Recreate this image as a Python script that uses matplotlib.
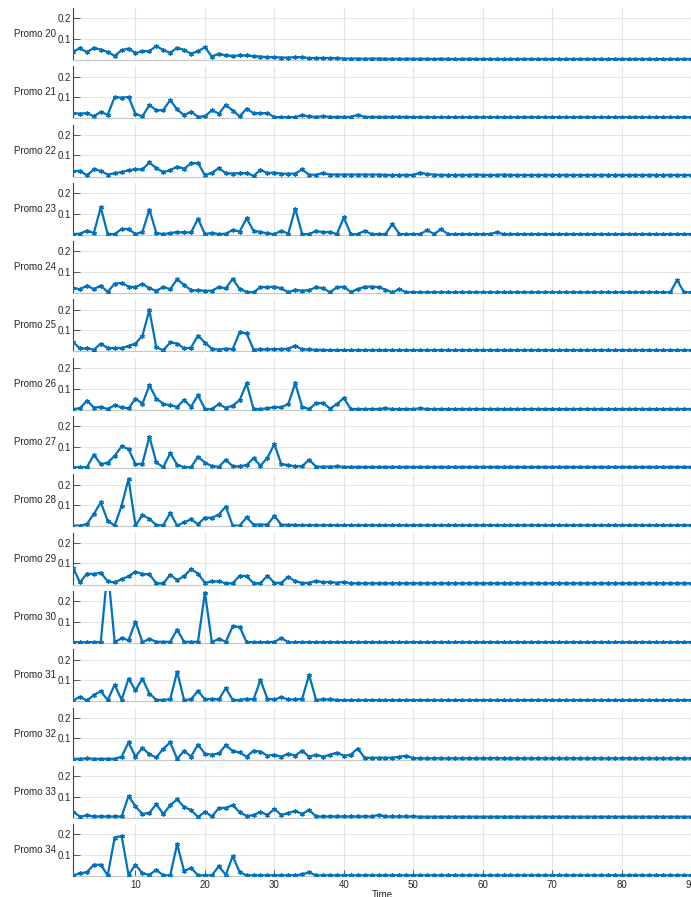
import matplotlib.pyplot as plt
import numpy as np

plt.rcParams['font.family'] = ['Liberation Sans', 'DejaVu Sans']

time = np.arange(1, 91)

promo_names = ['Promo 20', 'Promo 21', 'Promo 22', 'Promo 23', 'Promo 24',
               'Promo 25', 'Promo 26', 'Promo 27', 'Promo 28', 'Promo 29',
               'Promo 30', 'Promo 31', 'Promo 32', 'Promo 33', 'Promo 34']

promo_20 = [0.037, 0.053, 0.035, 0.055, 0.047, 0.035, 0.016, 0.044, 0.052, 0.029,
            0.040, 0.039, 0.065, 0.044, 0.032, 0.056, 0.045, 0.027, 0.039, 0.058,
            0.013, 0.027, 0.018, 0.016, 0.018, 0.018, 0.015, 0.013, 0.010, 0.010,
            0.008, 0.008, 0.010, 0.010, 0.005, 0.006, 0.006, 0.005, 0.005, 0.003,
            0.003, 0.003, 0.002, 0.003, 0.003, 0.002, 0.002, 0.002, 0.002, 0.002,
            0.002, 0.002, 0.001, 0.002, 0.002, 0.001, 0.001, 0.002, 0.001, 0.001,
            0.001, 0.001, 0.001, 0.001, 0.001, 0.001, 0.001, 0.001, 0.001, 0.001,
            0.001, 0.001, 0.001, 0.001, 0.001, 0.001, 0.001, 0.001, 0.001, 0.001,
            0.001, 0.001, 0.001, 0.001, 0.001, 0.001, 0.001, 0.001, 0.001, 0.001]
promo_21 = [0.021, 0.019, 0.021, 0.006, 0.027, 0.013, 0.100, 0.097, 0.100, 0.018,
            0.005, 0.061, 0.035, 0.037, 0.085, 0.039, 0.011, 0.029, 0.003, 0.006,
            0.035, 0.019, 0.061, 0.034, 0.005, 0.043, 0.021, 0.021, 0.021, 0.002,
            0.002, 0.002, 0.002, 0.011, 0.005, 0.003, 0.006, 0.003, 0.003, 0.003,
            0.003, 0.013, 0.003, 0.003, 0.003, 0.003, 0.003, 0.003, 0.003, 0.002,
            0.002, 0.002, 0.002, 0.002, 0.002, 0.002, 0.002, 0.002, 0.002, 0.002,
            0.002, 0.002, 0.002, 0.002, 0.002, 0.002, 0.002, 0.002, 0.002, 0.002,
            0.002, 0.002, 0.002, 0.002, 0.002, 0.002, 0.002, 0.002, 0.002, 0.002,
            0.002, 0.002, 0.002, 0.002, 0.002, 0.002, 0.002, 0.002, 0.002, 0.002]
promo_22 = [0.023, 0.024, 0.002, 0.031, 0.024, 0.006, 0.013, 0.018, 0.027, 0.032,
            0.031, 0.065, 0.037, 0.018, 0.027, 0.045, 0.035, 0.060, 0.063, 0.003,
            0.015, 0.037, 0.013, 0.011, 0.013, 0.013, 0.000, 0.029, 0.013, 0.016,
            0.010, 0.010, 0.011, 0.031, 0.005, 0.005, 0.013, 0.006, 0.006, 0.006,
            0.006, 0.006, 0.006, 0.006, 0.006, 0.004, 0.004, 0.004, 0.004, 0.004,
            0.016, 0.008, 0.006, 0.004, 0.004, 0.004, 0.004, 0.004, 0.006, 0.004,
            0.004, 0.004, 0.006, 0.004, 0.004, 0.004, 0.004, 0.004, 0.004, 0.004,
            0.004, 0.004, 0.004, 0.004, 0.004, 0.004, 0.004, 0.004, 0.004, 0.004,
            0.004, 0.004, 0.004, 0.004, 0.004, 0.004, 0.004, 0.004, 0.004, 0.004]
promo_23 = [0.000, 0.002, 0.017, 0.005, 0.130, 0.000, 0.000, 0.025, 0.025, 0.000,
            0.010, 0.120, 0.005, 0.000, 0.005, 0.010, 0.008, 0.008, 0.075, 0.000,
            0.006, 0.000, 0.002, 0.020, 0.012, 0.077, 0.016, 0.011, 0.003, 0.000,
            0.016, 0.002, 0.124, 0.000, 0.000, 0.015, 0.010, 0.010, 0.000, 0.081,
            0.000, 0.000, 0.016, 0.000, 0.000, 0.000, 0.050, 0.000, 0.000, 0.000,
            0.000, 0.019, 0.000, 0.024, 0.000, 0.000, 0.000, 0.000, 0.000, 0.000,
            0.000, 0.008, 0.000, 0.000, 0.000, 0.000, 0.000, 0.000, 0.000, 0.000,
            0.000, 0.000, 0.000, 0.000, 0.000, 0.000, 0.000, 0.000, 0.000, 0.000,
            0.000, 0.000, 0.000, 0.000, 0.000, 0.000, 0.000, 0.000, 0.000, 0.000]
promo_24 = [0.023, 0.015, 0.033, 0.016, 0.033, 0.002, 0.043, 0.046, 0.028, 0.026,
            0.041, 0.020, 0.008, 0.026, 0.016, 0.064, 0.036, 0.011, 0.010, 0.008,
            0.008, 0.026, 0.020, 0.066, 0.016, 0.003, 0.000, 0.026, 0.026, 0.028,
            0.020, 0.000, 0.013, 0.008, 0.011, 0.025, 0.021, 0.000, 0.025, 0.028,
            0.002, 0.015, 0.028, 0.028, 0.026, 0.013, 0.000, 0.016, 0.000, 0.000,
            0.000, 0.000, 0.000, 0.000, 0.000, 0.000, 0.000, 0.000, 0.000, 0.000,
            0.000, 0.000, 0.000, 0.000, 0.000, 0.000, 0.000, 0.000, 0.000, 0.000,
            0.000, 0.000, 0.000, 0.000, 0.000, 0.000, 0.000, 0.000, 0.000, 0.000,
            0.000, 0.000, 0.000, 0.000, 0.000, 0.000, 0.000, 0.060, 0.000, 0.000]
promo_25 = [0.042, 0.011, 0.011, 0.005, 0.034, 0.013, 0.013, 0.013, 0.023, 0.035,
            0.073, 0.198, 0.016, 0.002, 0.040, 0.035, 0.011, 0.015, 0.074, 0.039,
            0.010, 0.005, 0.010, 0.008, 0.090, 0.085, 0.005, 0.006, 0.006, 0.008,
            0.008, 0.010, 0.025, 0.006, 0.006, 0.004, 0.004, 0.003, 0.003, 0.003,
            0.002, 0.002, 0.002, 0.002, 0.002, 0.002, 0.002, 0.002, 0.002, 0.002,
            0.002, 0.002, 0.002, 0.002, 0.002, 0.002, 0.002, 0.002, 0.002, 0.002,
            0.002, 0.002, 0.002, 0.002, 0.002, 0.002, 0.002, 0.002, 0.002, 0.002,
            0.002, 0.002, 0.002, 0.002, 0.002, 0.002, 0.002, 0.002, 0.002, 0.002,
            0.002, 0.002, 0.002, 0.002, 0.002, 0.002, 0.002, 0.002, 0.002, 0.002]
promo_26 = [0.000, 0.003, 0.041, 0.007, 0.010, 0.000, 0.018, 0.008, 0.003, 0.051,
            0.026, 0.115, 0.051, 0.025, 0.018, 0.010, 0.044, 0.011, 0.067, 0.000,
            0.000, 0.024, 0.005, 0.017, 0.043, 0.125, 0.000, 0.000, 0.003, 0.010,
            0.008, 0.024, 0.125, 0.011, 0.000, 0.027, 0.030, 0.002, 0.024, 0.054,
            0.000, 0.000, 0.000, 0.000, 0.000, 0.003, 0.000, 0.000, 0.000, 0.000,
            0.003, 0.000, 0.000, 0.000, 0.000, 0.000, 0.000, 0.000, 0.000, 0.000,
            0.000, 0.000, 0.000, 0.000, 0.000, 0.000, 0.000, 0.000, 0.000, 0.000,
            0.000, 0.000, 0.000, 0.000, 0.000, 0.000, 0.000, 0.000, 0.000, 0.000,
            0.000, 0.000, 0.000, 0.000, 0.000, 0.000, 0.000, 0.000, 0.000, 0.000]
promo_27 = [0.000, 0.000, 0.000, 0.061, 0.015, 0.023, 0.056, 0.102, 0.089, 0.015,
            0.018, 0.150, 0.024, 0.000, 0.069, 0.013, 0.000, 0.000, 0.052, 0.022,
            0.006, 0.002, 0.037, 0.005, 0.005, 0.011, 0.044, 0.008, 0.047, 0.113,
            0.015, 0.011, 0.005, 0.005, 0.037, 0.003, 0.003, 0.003, 0.004, 0.002,
            0.002, 0.002, 0.002, 0.002, 0.002, 0.002, 0.002, 0.002, 0.002, 0.002,
            0.002, 0.002, 0.002, 0.002, 0.002, 0.002, 0.002, 0.002, 0.002, 0.002,
            0.002, 0.002, 0.002, 0.002, 0.002, 0.002, 0.002, 0.002, 0.002, 0.002,
            0.002, 0.002, 0.002, 0.002, 0.002, 0.002, 0.002, 0.002, 0.002, 0.002,
            0.002, 0.002, 0.002, 0.002, 0.002, 0.002, 0.002, 0.002, 0.002, 0.002]
promo_28 = [0.000, 0.000, 0.007, 0.057, 0.113, 0.023, 0.000, 0.097, 0.228, 0.000,
            0.052, 0.033, 0.002, 0.002, 0.061, 0.000, 0.016, 0.030, 0.007, 0.039,
            0.038, 0.054, 0.093, 0.000, 0.000, 0.040, 0.005, 0.005, 0.005, 0.047,
            0.004, 0.004, 0.003, 0.002, 0.002, 0.002, 0.002, 0.002, 0.002, 0.002,
            0.002, 0.002, 0.002, 0.002, 0.002, 0.002, 0.002, 0.002, 0.002, 0.002,
            0.002, 0.002, 0.002, 0.002, 0.002, 0.002, 0.002, 0.002, 0.002, 0.002,
            0.002, 0.002, 0.002, 0.002, 0.002, 0.002, 0.002, 0.002, 0.002, 0.002,
            0.002, 0.002, 0.002, 0.002, 0.002, 0.002, 0.002, 0.002, 0.002, 0.002,
            0.002, 0.002, 0.002, 0.002, 0.002, 0.002, 0.002, 0.002, 0.002, 0.002]
promo_29 = [0.080, 0.007, 0.050, 0.048, 0.055, 0.012, 0.007, 0.023, 0.037, 0.060,
            0.048, 0.047, 0.003, 0.002, 0.045, 0.018, 0.038, 0.072, 0.050, 0.005,
            0.012, 0.012, 0.003, 0.003, 0.040, 0.038, 0.003, 0.003, 0.040, 0.005,
            0.005, 0.035, 0.012, 0.005, 0.005, 0.015, 0.008, 0.010, 0.005, 0.010,
            0.003, 0.003, 0.003, 0.003, 0.003, 0.003, 0.003, 0.003, 0.003, 0.003,
            0.003, 0.003, 0.003, 0.003, 0.003, 0.003, 0.003, 0.003, 0.003, 0.003,
            0.003, 0.003, 0.003, 0.003, 0.003, 0.003, 0.003, 0.003, 0.003, 0.003,
            0.003, 0.003, 0.003, 0.003, 0.003, 0.003, 0.003, 0.003, 0.003, 0.003,
            0.003, 0.003, 0.003, 0.003, 0.003, 0.003, 0.003, 0.003, 0.003, 0.003]
promo_30 = [0.000, 0.000, 0.000, 0.000, 0.000, 0.360, 0.000, 0.019, 0.010, 0.100,
            0.000, 0.016, 0.002, 0.002, 0.002, 0.061, 0.002, 0.002, 0.002, 0.242,
            0.000, 0.016, 0.002, 0.077, 0.075, 0.000, 0.000, 0.000, 0.000, 0.002,
            0.020, 0.000, 0.000, 0.000, 0.000, 0.000, 0.000, 0.000, 0.000, 0.000,
            0.000, 0.000, 0.000, 0.000, 0.000, 0.000, 0.000, 0.000, 0.000, 0.000,
            0.000, 0.000, 0.000, 0.000, 0.000, 0.000, 0.000, 0.000, 0.000, 0.000,
            0.000, 0.000, 0.000, 0.000, 0.000, 0.000, 0.000, 0.000, 0.000, 0.000,
            0.000, 0.000, 0.000, 0.000, 0.000, 0.000, 0.000, 0.000, 0.000, 0.000,
            0.000, 0.000, 0.000, 0.000, 0.000, 0.000, 0.000, 0.000, 0.000, 0.000]
promo_31 = [0.000, 0.018, 0.000, 0.026, 0.045, 0.002, 0.077, 0.003, 0.106, 0.050,
            0.106, 0.034, 0.003, 0.003, 0.006, 0.140, 0.003, 0.005, 0.047, 0.005,
            0.008, 0.005, 0.060, 0.003, 0.003, 0.008, 0.005, 0.100, 0.008, 0.005,
            0.015, 0.005, 0.005, 0.008, 0.125, 0.003, 0.005, 0.005, 0.003, 0.002,
            0.002, 0.002, 0.002, 0.002, 0.002, 0.002, 0.002, 0.002, 0.002, 0.002,
            0.002, 0.002, 0.002, 0.002, 0.002, 0.002, 0.002, 0.002, 0.002, 0.002,
            0.002, 0.002, 0.002, 0.002, 0.002, 0.002, 0.002, 0.002, 0.002, 0.002,
            0.002, 0.002, 0.002, 0.002, 0.002, 0.002, 0.002, 0.002, 0.002, 0.002,
            0.002, 0.002, 0.002, 0.002, 0.002, 0.002, 0.002, 0.002, 0.002, 0.002]
promo_32 = [0.000, 0.000, 0.002, 0.000, 0.000, 0.000, 0.000, 0.010, 0.080, 0.010,
            0.054, 0.021, 0.007, 0.049, 0.080, 0.000, 0.038, 0.011, 0.069, 0.025,
            0.020, 0.026, 0.066, 0.038, 0.031, 0.010, 0.040, 0.035, 0.015, 0.020,
            0.010, 0.025, 0.015, 0.040, 0.010, 0.020, 0.010, 0.020, 0.030, 0.015,
            0.020, 0.050, 0.005, 0.005, 0.005, 0.005, 0.005, 0.010, 0.015, 0.003,
            0.002, 0.002, 0.002, 0.002, 0.002, 0.002, 0.002, 0.002, 0.002, 0.002,
            0.002, 0.004, 0.002, 0.002, 0.002, 0.002, 0.002, 0.002, 0.002, 0.002,
            0.002, 0.002, 0.002, 0.002, 0.002, 0.002, 0.002, 0.002, 0.002, 0.002,
            0.002, 0.002, 0.002, 0.002, 0.002, 0.002, 0.002, 0.002, 0.002, 0.002]
promo_33 = [0.027, 0.002, 0.008, 0.003, 0.003, 0.003, 0.003, 0.003, 0.103, 0.052,
            0.015, 0.021, 0.063, 0.015, 0.058, 0.087, 0.048, 0.035, 0.000, 0.026,
            0.003, 0.044, 0.045, 0.058, 0.024, 0.005, 0.010, 0.025, 0.010, 0.040,
            0.010, 0.020, 0.030, 0.015, 0.035, 0.003, 0.003, 0.003, 0.003, 0.003,
            0.003, 0.003, 0.003, 0.003, 0.010, 0.003, 0.003, 0.003, 0.003, 0.003,
            0.002, 0.002, 0.002, 0.002, 0.002, 0.002, 0.002, 0.002, 0.002, 0.002,
            0.002, 0.002, 0.002, 0.002, 0.002, 0.002, 0.002, 0.002, 0.002, 0.002,
            0.002, 0.002, 0.002, 0.002, 0.002, 0.002, 0.002, 0.002, 0.002, 0.002,
            0.002, 0.002, 0.002, 0.002, 0.002, 0.002, 0.002, 0.002, 0.002, 0.002]
promo_34 = [0.000, 0.010, 0.016, 0.052, 0.052, 0.000, 0.185, 0.192, 0.003, 0.052,
            0.010, 0.003, 0.027, 0.000, 0.000, 0.153, 0.021, 0.037, 0.000, 0.000,
            0.000, 0.045, 0.002, 0.094, 0.016, 0.000, 0.000, 0.000, 0.000, 0.000,
            0.000, 0.000, 0.000, 0.005, 0.015, 0.000, 0.000, 0.000, 0.000, 0.000,
            0.000, 0.000, 0.000, 0.000, 0.000, 0.000, 0.000, 0.000, 0.000, 0.000,
            0.000, 0.000, 0.000, 0.000, 0.000, 0.000, 0.000, 0.000, 0.000, 0.000,
            0.000, 0.000, 0.000, 0.000, 0.000, 0.000, 0.000, 0.000, 0.000, 0.000,
            0.000, 0.000, 0.000, 0.000, 0.000, 0.000, 0.000, 0.000, 0.000, 0.000,
            0.000, 0.000, 0.000, 0.000, 0.000, 0.000, 0.000, 0.000, 0.000, 0.000]

promo_series = [promo_20, promo_21, promo_22, promo_23, promo_24, promo_25,
                promo_26, promo_27, promo_28, promo_29, promo_30, promo_31,
                promo_32, promo_33, promo_34]

y_ticks = [0.1, 0.2]
y_tick_labels = ['0.1', '0.2']
x_ticks = [10, 20, 30, 40, 50, 60, 70, 80, 90]

W, H = 691, 897
fig = plt.figure(figsize=(W / 100, H / 100), dpi=100)

line_color = '#0072BD'
axis_color = '#404040'
grid_color = '#e5e5e5'
text_color = '#262626'

n = len(promo_names)
for i, (name, vals) in enumerate(zip(promo_names, promo_series)):
    top_px = 8 + 58.3 * i
    ax = fig.add_axes([73 / W, 1 - (top_px + 52) / H, 618 / W, 52 / H])
    ax.plot(time, vals, color=line_color, lw=1.6, marker=(6, 2, 0),
            ms=3.2, mew=0.9, zorder=3)
    ax.set_xlim(1, 90)
    ax.set_ylim(-0.004, 0.25)
    ax.set_yticks(y_ticks)
    ax.set_yticklabels(y_tick_labels)
    ax.set_xticks(x_ticks)
    ax.grid(True, color=grid_color, lw=0.8)
    ax.set_axisbelow(True)
    for side in ['top', 'right']:
        ax.spines[side].set_visible(False)
    ax.spines['left'].set_color(axis_color)
    ax.spines['left'].set_linewidth(0.8)
    ax.spines['bottom'].set_color('#c8c8c8')
    ax.spines['bottom'].set_linewidth(0.8)
    ax.tick_params(axis='y', direction='in', length=5, width=0.6,
                   color=axis_color, labelsize=7, labelcolor=text_color, pad=1.5)
    ax.set_ylabel(name, rotation=0, fontsize=7, color=text_color,
                  ha='right', va='center')
    ax.yaxis.set_label_coords(-0.027, 0.5)
    if i < n - 1:
        ax.tick_params(axis='x', length=0, labelbottom=False)
    else:
        ax.tick_params(axis='x', direction='in', length=4, width=0.6,
                       color=axis_color, labelsize=7, labelcolor=text_color,
                       pad=3)
        ax.set_xlabel('Time', fontsize=7, color=text_color, labelpad=0)

fig.savefig('out.png', dpi=100)
